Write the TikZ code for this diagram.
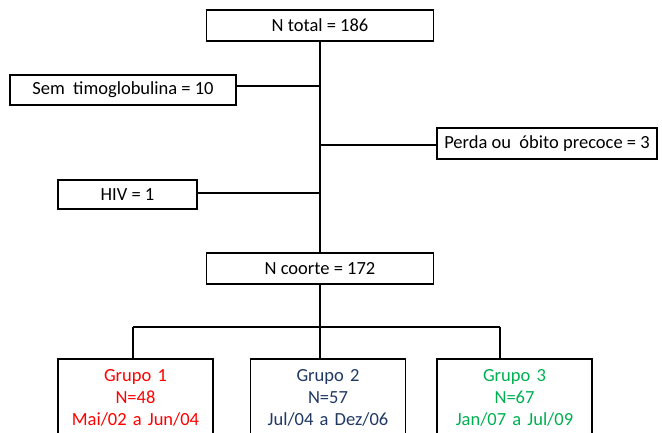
\documentclass[tikz,border=0pt]{standalone}
\usepackage{fontspec}
\setmainfont{Carlito}
\usepackage{tikz}
\usetikzlibrary{%
    positioning,
    calc
}

\definecolor{grupored}{RGB}{255,0,0}
\definecolor{gruponavy}{RGB}{31,56,100}
\definecolor{grupogreen}{RGB}{0,176,80}

\begin{document}
\begin{tikzpicture}[x=1pt, y=-1pt, line width=1.6pt,
    box/.style={draw, rectangle, minimum height=31pt, inner sep=2pt, font=\fontsize{18.5}{22}\selectfont},
    grp/.style={draw, rectangle, anchor=north, text width=151pt, align=center, inner xsep=2pt, inner ysep=11pt, font=\fontsize{18.5}{22}\selectfont}]
      \clip (0,0) rectangle (662,433);

      \node[box, minimum width=227pt] (total) at (320,25.5) {N total = 186};
      \node[box, minimum width=226pt, minimum height=30pt] (sem) at (123,90) {Sem~ timoglobulina = 10};
      \node[box, minimum width=220pt] (perda) at (547,143.5) {Perda ou~ óbito precoce = 3};
      \node[box, minimum width=139pt, minimum height=29pt] (hiv) at (127.5,194.5) {HIV = 1};
      \node[box, minimum width=227pt] (coorte) at (320,268.5) {N coorte = 172};

      \node[grp, text=grupored] (g1) at (135.5,358) {Grupo 1\\N=48\\Mai/02 a Jun/04};
      \node[grp, text=gruponavy] (g2) at (328,358) {Grupo 2\\N=57\\Jul/04 a Dez/06};
      \node[grp, text=grupogreen] (g3) at (514.5,358) {Grupo 3\\N=67\\Jan/07 a Jul/09};

      \coordinate (j1) at (320,86);
      \coordinate (j2) at (320,145);
      \coordinate (j3) at (320,193);
      \coordinate (bar) at (320,327);
      \coordinate (d1) at (133,327);
      \coordinate (d3) at (500,327);

      \draw (total.south) -- (coorte.north);
      \draw (j1) -- (j1 -| sem.east);
      \draw (j2) -- (j2 -| perda.west);
      \draw (j3) -- (j3 -| hiv.east);

      \draw (coorte.south) -- (bar);
      \draw (d1) -- (d3);
      \draw (d1) -- (d1 |- g1.north);
      \draw (bar) -- (bar |- g2.north);
      \draw (d3) -- (d3 |- g3.north);
\end{tikzpicture}
\end{document}
